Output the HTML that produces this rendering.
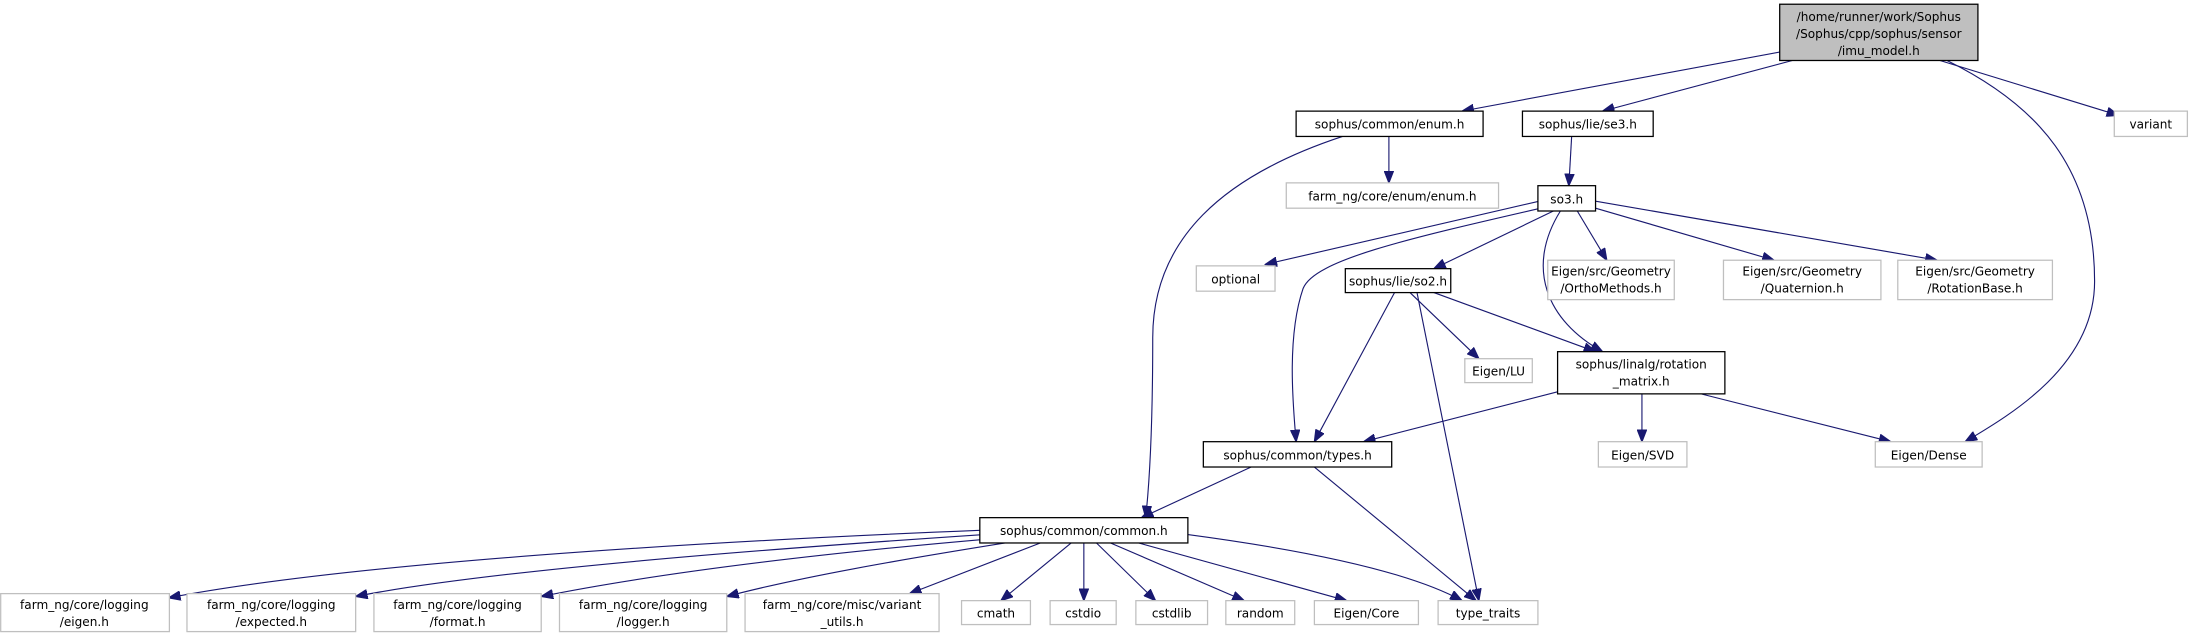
<!DOCTYPE html>
<html><head><meta charset="utf-8"><style>
html,body{margin:0;padding:0;background:#fff;}
svg{display:block;}
text{font-family:"DejaVu Sans","Liberation Sans",sans-serif;font-size:8.6px;fill:#000;text-anchor:middle;}
.b{fill:#fff;stroke:#000;stroke-width:0.9;}
.g{fill:#fff;stroke:#bfbfbf;stroke-width:0.9;}
.e{fill:none;stroke:#191970;stroke-width:0.8;}
</style></head><body>
<svg width="2193" height="633" viewBox="0 0 1560 450" preserveAspectRatio="none" xmlns="http://www.w3.org/2000/svg">
<defs><marker id="a" markerWidth="9" markerHeight="7" refX="8.5" refY="3.5" orient="auto" markerUnits="userSpaceOnUse"><path d="M0,0 L9,3.5 L0,7 Z" fill="#191970" stroke="#191970" stroke-width="0.5"/></marker></defs>
<g marker-end="url(#a)">
<path class="e" d="M1266,37 L1040,79"/>
<path class="e" d="M1275,43 L1140,79"/>
<path class="e" d="M1380,43 L1507,82"/>
<path class="e" d="M1385,43 C1450,75 1490,120 1490,200 C1490,260 1430,295 1398,314"/>
<path class="e" d="M988,97 L988,130"/>
<path class="e" d="M955,97 C870,125 820,170 820,240 C820,300 818,340 815,368"/>
<path class="e" d="M1118,97 L1116,132"/>
<path class="e" d="M1095,143 L900,188"/>
<path class="e" d="M1105,150 L1020,191"/>
<path class="e" d="M1096,148 C1000,170 935,185 927,205 C915,240 920,290 922,314"/>
<path class="e" d="M1122,150 L1143,185"/>
<path class="e" d="M1135,148 L1262,185"/>
<path class="e" d="M1135,143 L1378,185"/>
<path class="e" d="M1110,150 C1085,190 1100,228 1140,250"/>
<path class="e" d="M1003,208 L1052,255"/>
<path class="e" d="M1020,208 L1135,250"/>
<path class="e" d="M992,208 L935,314"/>
<path class="e" d="M1008,208 L1052,427"/>
<path class="e" d="M1110,278 L970,314"/>
<path class="e" d="M1168,280 L1168,314"/>
<path class="e" d="M1210,280 L1345,314"/>
<path class="e" d="M890,332 L812,368"/>
<path class="e" d="M935,332 L1050,427"/>
<path class="e" d="M697,377 C500,385 250,400 120,425"/>
<path class="e" d="M700,380 C550,390 350,405 253,424"/>
<path class="e" d="M705,383 C600,392 480,405 385,424"/>
<path class="e" d="M715,386 C640,398 570,410 517,424"/>
<path class="e" d="M740,386 L647,422"/>
<path class="e" d="M762,386 L712,427"/>
<path class="e" d="M771,386 L771,427"/>
<path class="e" d="M780,386 L822,427"/>
<path class="e" d="M790,386 L885,427"/>
<path class="e" d="M810,386 L958,427"/>
<path class="e" d="M845,380 C920,390 1000,405 1040,427"/>
</g>
<rect x="1266" y="3" width="141" height="40" fill="#bfbfbf" stroke="#000" stroke-width="0.9"/>
<text x="1336.5" y="15">/home/runner/work/Sophus</text>
<text x="1336.5" y="27">/Sophus/cpp/sophus/sensor</text>
<text x="1336.5" y="39">/imu_model.h</text>
<rect class="b" x="922" y="79" width="133" height="18"/><text x="988.5" y="91.5">sophus/common/enum.h</text>
<rect class="b" x="1083" y="79" width="93" height="18"/><text x="1129.5" y="91.5">sophus/lie/se3.h</text>
<rect class="g" x="1504" y="79" width="52" height="18"/><text x="1530" y="91.5">variant</text>
<rect class="g" x="915" y="130" width="151" height="18"/><text x="990.5" y="142.5">farm_ng/core/enum/enum.h</text>
<rect class="b" x="1094" y="132" width="41" height="18"/><text x="1114.5" y="144.5">so3.h</text>
<rect class="g" x="851" y="189" width="56" height="18"/><text x="879" y="201.5">optional</text>
<rect class="b" x="957" y="191" width="75" height="17"/><text x="994.5" y="203">sophus/lie/so2.h</text>
<rect class="g" x="1101" y="185" width="90" height="28"/><text x="1146" y="196">Eigen/src/Geometry</text><text x="1146" y="208">/OrthoMethods.h</text>
<rect class="g" x="1226" y="185" width="112" height="28"/><text x="1282" y="196">Eigen/src/Geometry</text><text x="1282" y="208">/Quaternion.h</text>
<rect class="g" x="1350" y="185" width="110" height="28"/><text x="1405" y="196">Eigen/src/Geometry</text><text x="1405" y="208">/RotationBase.h</text>
<rect class="g" x="1042" y="255" width="48" height="17"/><text x="1066" y="267">Eigen/LU</text>
<rect class="b" x="1108" y="250" width="119" height="30"/><text x="1167.5" y="262">sophus/linalg/rotation</text><text x="1167.5" y="274">_matrix.h</text>
<rect class="b" x="856" y="314" width="134" height="18"/><text x="923" y="326.5">sophus/common/types.h</text>
<rect class="g" x="1137" y="314" width="63" height="18"/><text x="1168.5" y="326.5">Eigen/SVD</text>
<rect class="g" x="1334" y="314" width="76" height="18"/><text x="1372" y="326.5">Eigen/Dense</text>
<rect class="b" x="697" y="368" width="148" height="18"/><text x="771" y="380.5">sophus/common/common.h</text>
<rect class="g" x="0.5" y="422" width="120" height="27"/><text x="60" y="433">farm_ng/core/logging</text><text x="60" y="445">/eigen.h</text>
<rect class="g" x="133" y="422" width="120" height="27"/><text x="193" y="433">farm_ng/core/logging</text><text x="193" y="445">/expected.h</text>
<rect class="g" x="266" y="422" width="119" height="27"/><text x="325.5" y="433">farm_ng/core/logging</text><text x="325.5" y="445">/format.h</text>
<rect class="g" x="398" y="422" width="119" height="27"/><text x="457.5" y="433">farm_ng/core/logging</text><text x="457.5" y="445">/logger.h</text>
<rect class="g" x="530" y="422" width="138" height="27"/><text x="599" y="433">farm_ng/core/misc/variant</text><text x="599" y="445">_utils.h</text>
<rect class="g" x="684" y="427" width="49" height="17"/><text x="708.5" y="439">cmath</text>
<rect class="g" x="747" y="427" width="47" height="17"/><text x="770.5" y="439">cstdio</text>
<rect class="g" x="808" y="427" width="51" height="17"/><text x="833.5" y="439">cstdlib</text>
<rect class="g" x="872" y="427" width="49" height="17"/><text x="896.5" y="439">random</text>
<rect class="g" x="935" y="427" width="74" height="17"/><text x="972" y="439">Eigen/Core</text>
<rect class="g" x="1023" y="427" width="71" height="17"/><text x="1058.5" y="439">type_traits</text>
</svg>
</body></html>
